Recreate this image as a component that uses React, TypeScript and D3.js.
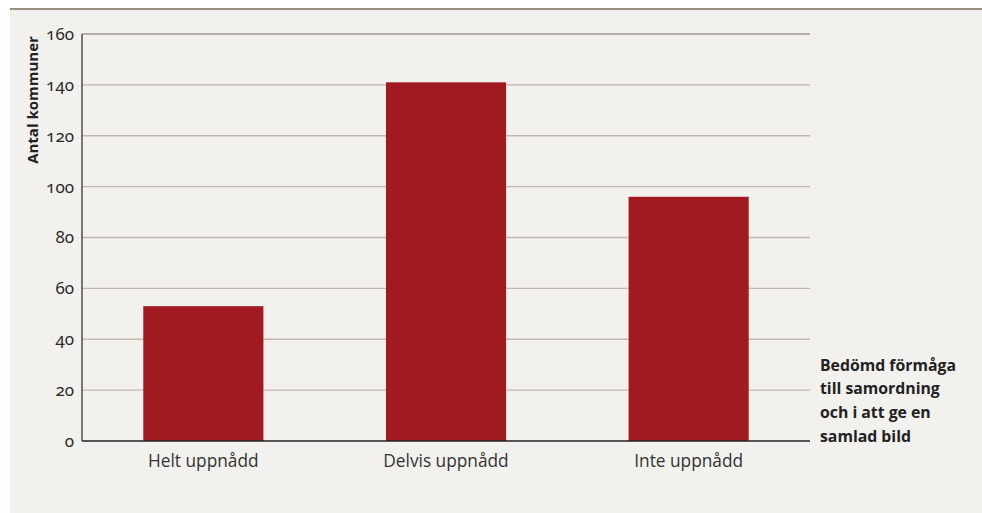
import React from "react";
import * as d3 from "d3";

const categories = ["Helt uppnådd", "Delvis uppnådd", "Inte uppnådd"];
const values = [53, 141, 96];
const yTicks = [0, 20, 40, 60, 80, 100, 120, 140, 160];
const yAxisTitle = "Antal kommuner";
const sideLabel = ["Bedömd förmåga", "till samordning", "och i att ge en", "samlad bild"];

const W = 982;
const H = 513;
const plot = { left: 82, right: 810, top: 34, bottom: 441 };

export default function App() {
  const x = d3
    .scaleBand<string>()
    .domain(categories)
    .range([plot.left, plot.right])
    .paddingInner(0.505)
    .paddingOuter(0.2525);
  const y = d3.scaleLinear().domain([0, 160]).range([plot.bottom, plot.top]);

  const numFont = {
    fontFamily: "'Noto Sans', 'Open Sans', sans-serif",
    fontFeatureSettings: "'onum' 1",
    fontVariantNumeric: "oldstyle-nums",
  } as any;

  return (
    <svg
      width={W}
      height={H}
      style={{ position: "absolute", left: 0, top: 0, background: "#ffffff" }}
    >
      <rect x={10} y={9} width={W - 10} height={H - 9} fill="#f2f1ee" />
      <rect x={10} y={8} width={W - 10} height={2} fill="#9c8e7e" />

      {yTicks.map((t) => (
        <g key={t}>
          {t > 0 && (
            <line
              x1={plot.left}
              x2={plot.right}
              y1={y(t)}
              y2={y(t)}
              stroke={t === 160 ? "#a89a8c" : "#c3b9ae"}
              strokeWidth={1.3}
            />
          )}
          <text
            x={74}
            y={y(t)}
            dy="0.35em"
            textAnchor="end"
            fontSize={17}
            fill="#2b2b2b"
            style={numFont}
          >
            {t}
          </text>
        </g>
      ))}

      {values.map((v, i) => (
        <rect
          key={categories[i]}
          x={x(categories[i])}
          y={y(v)}
          width={x.bandwidth()}
          height={y(0) - y(v)}
          fill="#a01a1f"
        />
      ))}

      <line x1={plot.left} x2={plot.left} y1={plot.top} y2={plot.bottom} stroke="#333" strokeWidth={1.3} />
      <line x1={plot.left} x2={plot.right} y1={plot.bottom} y2={plot.bottom} stroke="#222" strokeWidth={1.5} />

      {categories.map((c) => (
        <text
          key={c}
          x={(x(c) as number) + x.bandwidth() / 2}
          y={461}
          dy="0.35em"
          textAnchor="middle"
          fontSize={17.3}
          fill="#333"
          fontFamily="'Open Sans', sans-serif"
        >
          {c}
        </text>
      ))}

      <text
        transform={`translate(33,${(35 + 165) / 2}) rotate(-90)`}
        textAnchor="middle"
        dy="0.35em"
        fontSize={15}
        fontWeight="bold"
        fill="#222"
        fontFamily="'Open Sans', sans-serif"
      >
        {yAxisTitle}
      </text>

      {sideLabel.map((s, i) => (
        <text
          key={s}
          x={820}
          y={365 + i * 23.7}
          dy="0.35em"
          fontSize={15.8}
          fontWeight="bold"
          fill="#222"
          fontFamily="'Open Sans', sans-serif"
        >
          {s}
        </text>
      ))}
    </svg>
  );
}
